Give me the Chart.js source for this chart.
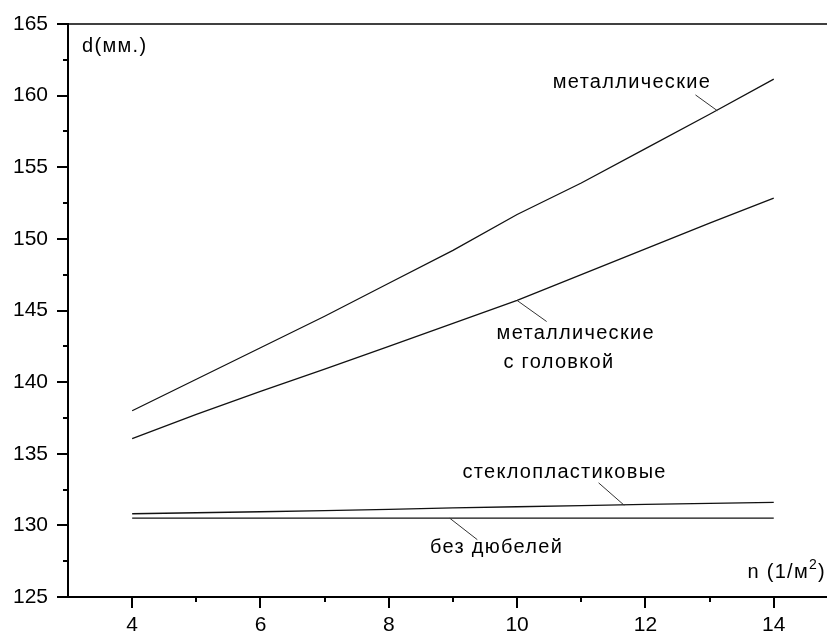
<!DOCTYPE html>
<html>
<head>
<meta charset="utf-8">
<script src="https://cdn.jsdelivr.net/npm/chart.js@4/dist/chart.umd.min.js"></script>
<style>
  html, body { margin: 0; padding: 0; background: #fff; }
  #wrap { width: 827px; height: 635px; }
</style>
</head>
<body>
<div id="wrap"><canvas id="c" width="827" height="635"></canvas></div>
<script>
// Dowel density n (1/m²) and the resulting thickness d (mm) for each dowel type
const nValues   = [4, 5, 6, 7, 8, 9, 10, 11, 12, 13, 14];
const metal     = [138.0, 140.2, 142.4, 144.6, 146.9, 149.2, 151.7, 153.9, 156.3, 158.7, 161.15];
const metalHead = [136.05, 137.75, 139.35, 140.9, 142.5, 144.1, 145.7, 147.5, 149.3, 151.1, 152.85];
const glass     = [130.81, 130.88, 130.95, 131.03, 131.12, 131.22, 131.3, 131.38, 131.46, 131.54, 131.6];
const noDowel   = [130.5, 130.5, 130.5, 130.5, 130.5, 130.5, 130.5, 130.5, 130.5, 130.5, 130.5];

const xTickLabels = [4, 6, 8, 10, 12, 14];
const yTickLabels = [125, 130, 135, 140, 145, 150, 155, 160, 165];

// Curve captions with leader lines, in data units
const captions = [
  { lines: ['металлические'], x: 11.79, y: 160.9, align: 'center', from: [12.78, 160.05], to: [13.12, 158.95] },
  { lines: ['металлические', ' с головкой'], x: 9.68, y: 143.37, align: 'left', from: [10.46, 144.23], to: [10.0, 145.7] },
  { lines: ['стеклопластиковые'], x: 10.74, y: 133.67, align: 'center', from: [11.27, 132.97], to: [11.67, 131.4] },
  { lines: ['без дюбелей'], x: 9.68, y: 128.43, align: 'center', from: [9.38, 129.0], to: [8.95, 130.5] }
];
const yTitle = { text: 'd(мм.)', x: 3.22, y: 163.4 };
const xTitle = { text: 'n (1/м', sup: '2', tail: ')', x: 13.59, y: 126.69 };

const FONT = '"Liberation Sans", Arial, sans-serif';

function series(vals) { return nValues.map((n, i) => ({ x: n, y: vals[i] })); }
function lineSet(vals) {
  return { data: series(vals), borderColor: '#111', borderWidth: 1.3, pointRadius: 0, fill: false, tension: 0 };
}

const decor = {
  id: 'decor',
  afterDraw(chart) {
    const ctx = chart.ctx, xs = chart.scales.x, ys = chart.scales.y;
    ctx.save();
    ctx.strokeStyle = '#000';
    // top frame line
    ctx.lineWidth = 1.5;
    ctx.beginPath();
    ctx.moveTo(xs.left, ys.top);
    ctx.lineTo(xs.right, ys.top);
    ctx.stroke();
    // x ticks: major on even n, minor on odd n
    ctx.lineWidth = 2;
    for (let v = 4; v <= 14; v++) {
      const px = Math.round(xs.getPixelForValue(v));
      const len = v % 2 === 0 ? 11 : 5;
      ctx.beginPath();
      ctx.moveTo(px, ys.bottom);
      ctx.lineTo(px, ys.bottom + len);
      ctx.stroke();
    }
    // y ticks: major every 5, minor every 2.5
    for (let v = 125; v <= 165; v += 2.5) {
      const py = Math.round(ys.getPixelForValue(v));
      const len = v % 5 === 0 ? 11 : 5;
      ctx.beginPath();
      ctx.moveTo(xs.left, py);
      ctx.lineTo(xs.left - len, py);
      ctx.stroke();
    }
    // captions and leader lines
    ctx.fillStyle = '#000';
    ctx.font = '20px ' + FONT;
    ctx.textBaseline = 'middle';
    if ('letterSpacing' in ctx) ctx.letterSpacing = '1.3px';
    captions.forEach(c => {
      ctx.textAlign = c.align;
      c.lines.forEach((t, i) => {
        ctx.fillText(t, xs.getPixelForValue(c.x), ys.getPixelForValue(c.y) + i * 29);
      });
      ctx.lineWidth = 1;
      ctx.strokeStyle = '#333';
      ctx.beginPath();
      ctx.moveTo(xs.getPixelForValue(c.from[0]), ys.getPixelForValue(c.from[1]));
      ctx.lineTo(xs.getPixelForValue(c.to[0]), ys.getPixelForValue(c.to[1]));
      ctx.stroke();
    });
    // axis titles
    ctx.textAlign = 'left';
    ctx.fillText(yTitle.text, xs.getPixelForValue(yTitle.x), ys.getPixelForValue(yTitle.y));
    let tx = xs.getPixelForValue(xTitle.x);
    const ty = ys.getPixelForValue(xTitle.y);
    ctx.fillText(xTitle.text, tx, ty);
    tx += ctx.measureText(xTitle.text).width;
    ctx.font = '14px ' + FONT;
    ctx.fillText(xTitle.sup, tx, ty - 8);
    tx += ctx.measureText(xTitle.sup).width;
    ctx.font = '20px ' + FONT;
    ctx.fillText(xTitle.tail, tx, ty);
    ctx.restore();
  }
};

new Chart(document.getElementById('c'), {
  type: 'line',
  data: { datasets: [lineSet(metal), lineSet(metalHead), lineSet(glass), lineSet(noDowel)] },
  options: {
    responsive: false,
    animation: false,
    layout: { padding: { top: 24, right: 0, left: 0, bottom: 0 } },
    plugins: { legend: { display: false }, tooltip: { enabled: false } },
    scales: {
      x: {
        type: 'linear', min: 3, max: 14.83,
        afterFit(s) { s.height = 38; s.paddingLeft = 0; s.paddingRight = 0; },
        grid: { display: false, drawTicks: false },
        border: { display: true, color: '#000', width: 2 },
        afterBuildTicks(s) { s.ticks = xTickLabels.map(v => ({ value: v })); },
        ticks: { color: '#000', padding: 16, font: { family: FONT, size: 21 }, maxRotation: 0, autoSkip: false }
      },
      y: {
        type: 'linear', min: 125, max: 165,
        afterFit(s) { s.width = 68; s.paddingTop = 0; s.paddingBottom = 0; },
        grid: { display: false, drawTicks: false },
        border: { display: true, color: '#000', width: 2 },
        afterBuildTicks(s) { s.ticks = yTickLabels.map(v => ({ value: v })); },
        ticks: { color: '#000', padding: 20, font: { family: FONT, size: 21 }, autoSkip: false }
      }
    }
  },
  plugins: [decor]
});
</script>
</body>
</html>
